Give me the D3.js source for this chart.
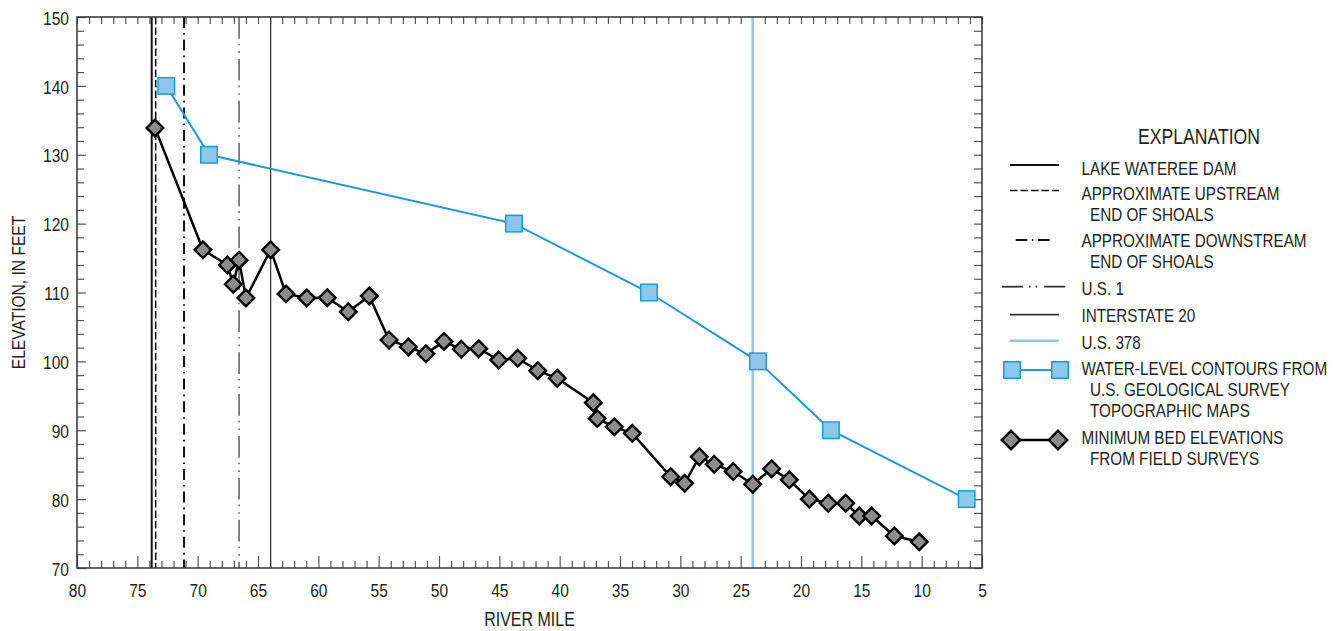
<!DOCTYPE html>
<html>
<head>
<meta charset="utf-8">
<script src="https://cdn.jsdelivr.net/npm/d3@7"></script>
<style>
  html, body { margin: 0; padding: 0; background: #fff; }
  svg { display: block; font-family: "Liberation Sans", Arial, sans-serif; }
</style>
</head>
<body>
<svg id="chart" width="1341" height="631"></svg>
<script>
// ---------------- DATA ----------------
const xTickValues = d3.range(5, 81, 1);          // river mile ticks
const xLabelValues = [80, 75, 70, 65, 60, 55, 50, 45, 40, 35, 30, 25, 20, 15, 10, 5];
const yTickValues = d3.range(70, 151, 2);
const yLabelValues = [70, 80, 90, 100, 110, 120, 130, 140, 150];

// Water-level contours from USGS topographic maps
const contourMile = [72.6, 69.06, 43.79, 32.6, 23.57, 17.52, 6.27];
const contourElev = [140, 130, 120, 110, 100, 90, 80];

// Minimum bed elevations from field surveys
const bedMile = [73.54, 69.56, 67.54, 67.05, 66.57, 66.0, 63.95, 62.68, 60.96, 59.26,
  57.52, 55.78, 54.14, 52.54, 51.08, 49.59, 48.15, 46.71, 45.05, 43.48,
  41.82, 40.2, 37.21, 36.88, 35.47, 33.98, 30.8, 29.64, 28.43, 27.19,
  25.61, 24.0, 22.43, 20.97, 19.31, 17.74, 16.3, 15.17, 14.14, 12.27, 10.2];
const bedElev = [133.9, 116.2, 114.0, 111.2, 114.7, 109.2, 116.2, 109.8, 109.2, 109.25,
  107.2, 109.5, 103.1, 102.1, 101.1, 102.9, 101.75, 101.85, 100.2, 100.45,
  98.65, 97.55, 94.0, 91.7, 90.5, 89.55, 83.25, 82.3, 86.15, 85.05,
  84.0, 82.15, 84.4, 82.8, 80.0, 79.4, 79.4, 77.55, 77.55, 74.65, 73.8];

// Reference locations (vertical lines)
const refKeys  = ["dam", "up", "down", "us1", "i20", "us378"];
const refMiles = [73.81, 73.48, 71.13, 66.57, 63.95, 24.0];

// Legend
const legendTitle = "EXPLANATION";
const legendKeys = ["dam", "up", "down", "us1", "i20", "us378", "contour", "bed"];
const legendLabels = [
  ["LAKE WATEREE DAM"],
  ["APPROXIMATE UPSTREAM", "END OF SHOALS"],
  ["APPROXIMATE DOWNSTREAM", "END OF SHOALS"],
  ["U.S. 1"],
  ["INTERSTATE 20"],
  ["U.S. 378"],
  ["WATER-LEVEL CONTOURS FROM", "U.S. GEOLOGICAL SURVEY", "TOPOGRAPHIC MAPS"],
  ["MINIMUM BED ELEVATIONS", "FROM FIELD SURVEYS"]
];
const xAxisTitle = "RIVER MILE";
const yAxisTitle = "ELEVATION, IN FEET";

// ---------------- STYLES ----------------
const NARROW = 0.82;
const lineStyle = {
  dam:   { stroke: "#111", width: 2.0, dash: null },
  up:    { stroke: "#111", width: 1.6, dash: "7.5,3" },
  down:  { stroke: "#111", width: 2.0, dash: "11,5,1.6,5" },
  us1:   { stroke: "#333", width: 1.2, dash: "21.7,5,1.6,6,1.6,6" },
  i20:   { stroke: "#333", width: 1.2, dash: null },
  us378: { stroke: "#8ec8ee", width: 2.5, dash: null }
};
const blue = "#1a9bd7", blueFill = "#8ec7ec";
const diamondFill = "#8c8c8c";

// ---------------- CHART ----------------
const svg = d3.select("#chart");
svg.append("rect").attr("width", 1341).attr("height", 631).attr("fill", "#fff");

const L = 77, R = 982, T = 17, B = 568;
const x = d3.scaleLinear().domain([80, 5]).range([L, R]);
const y = d3.scaleLinear().domain([70, 150]).range([B, T]);

function narrowText(sel) {
  sel.attr("transform", `scale(${NARROW},1)`);
}

// axes
const fmtX = d => (d % 5 === 0 ? d : "");
const fmtY = d => (d % 10 === 0 ? d : "");

const gBottom = svg.append("g").attr("transform", `translate(0,${B})`)
  .call(d3.axisBottom(x).tickValues(xTickValues).tickSizeInner(-7).tickSizeOuter(0)
    .tickPadding(15.5).tickFormat(fmtX));
const gTop = svg.append("g").attr("transform", `translate(0,${T})`)
  .call(d3.axisTop(x).tickValues(xTickValues).tickSizeInner(-7).tickSizeOuter(0).tickFormat(""));
const gLeft = svg.append("g").attr("transform", `translate(${L},0)`)
  .call(d3.axisLeft(y).tickValues(yTickValues).tickSizeInner(-7).tickSizeOuter(0).tickFormat(fmtY));
const gRight = svg.append("g").attr("transform", `translate(${R},0)`)
  .call(d3.axisRight(y).tickValues(yTickValues).tickSizeInner(-8).tickSizeOuter(0).tickFormat(""));

[gBottom, gTop, gLeft, gRight].forEach(g => {
  g.select(".domain").remove();
  g.selectAll(".tick line").attr("stroke", "#555").attr("stroke-width", 1.2);
});
gBottom.selectAll(".tick line").filter(d => d % 5 === 0).attr("y2", -12);
gLeft.selectAll(".tick line").filter(d => d % 10 === 0).attr("x2", 9);

gBottom.selectAll(".tick text")
  .attr("font-size", 19).attr("fill", "#231f20")
  .attr("font-family", "Liberation Sans, Arial, sans-serif")
  .call(narrowText);
gLeft.selectAll(".tick text")
  .attr("font-size", 19).attr("fill", "#231f20")
  .attr("font-family", "Liberation Sans, Arial, sans-serif")
  .attr("x", -8 / NARROW).attr("dy", "0.38em")
  .call(narrowText);

// reference vertical lines
svg.append("g").selectAll("line").data(refKeys).join("line")
  .attr("x1", (d, i) => x(refMiles[i])).attr("x2", (d, i) => x(refMiles[i]))
  .attr("y1", T).attr("y2", B)
  .attr("stroke", d => lineStyle[d].stroke)
  .attr("stroke-width", d => lineStyle[d].width)
  .attr("stroke-dasharray", d => lineStyle[d].dash);

// frame
svg.append("rect").attr("x", L).attr("y", T).attr("width", R - L).attr("height", B - T)
  .attr("fill", "none").attr("stroke", "#333").attr("stroke-width", 1.5);

// contour series
const contour = contourMile.map((m, i) => ({ m, e: contourElev[i] }));
const bed = bedMile.map((m, i) => ({ m, e: bedElev[i] }));
const line = d3.line().x(d => x(d.m)).y(d => y(d.e));

svg.append("path").datum(contour).attr("d", line)
  .attr("fill", "none").attr("stroke", blue).attr("stroke-width", 2);
const SQ = 16.5;
svg.append("g").selectAll("rect").data(contour).join("rect")
  .attr("x", d => x(d.m) - SQ / 2).attr("y", d => y(d.e) - SQ / 2)
  .attr("width", SQ).attr("height", SQ)
  .attr("fill", blueFill).attr("stroke", blue).attr("stroke-width", 1.5);

// bed series
svg.append("path").datum(bed).attr("d", line)
  .attr("fill", "none").attr("stroke", "#000").attr("stroke-width", 2.5)
  .attr("stroke-linejoin", "round");
const diamond = r => `M0,${-r}L${r},0L0,${r}L${-r},0Z`;
svg.append("g").selectAll("path").data(bed).join("path")
  .attr("transform", d => `translate(${x(d.m)},${y(d.e)})`)
  .attr("d", diamond(8.3))
  .attr("fill", diamondFill).attr("stroke", "#000").attr("stroke-width", 2.4)
  .attr("stroke-linejoin", "miter");

// axis titles
svg.append("g").attr("transform", `translate(${(L + R) / 2},626)`)
  .append("text").attr("text-anchor", "middle").attr("font-size", 19.5).attr("fill", "#231f20")
  .text(xAxisTitle).call(narrowText);
svg.append("g").attr("transform", `translate(25,${(T + B) / 2}) rotate(-90)`)
  .append("text").attr("text-anchor", "middle").attr("font-size", 19).attr("fill", "#231f20")
  .text(yAxisTitle).call(narrowText);

// ---------------- LEGEND ----------------
const lg = svg.append("g");
lg.append("g").attr("transform", "translate(1199,144.3)")
  .append("text").attr("text-anchor", "middle").attr("font-size", 21.5).attr("fill", "#231f20")
  .text(legendTitle).call(narrowText);

const textX = 1081.5, indentX = 1090;
const firstBaselines = [174.5, 199.5, 247, 295, 322, 348.5, 375, 444];
const lineGap = 21.2;
const symSpec = {
  dam:   { x1: 1010, x2: 1059, dy: -9.5 },
  up:    { x1: 1010, x2: 1059, dy: -9 },
  down:  { x1: 1015.7, x2: 1050, dy: -7 },
  us1:   { x1: 1002, x2: 1066, dy: -8.3 },
  i20:   { x1: 1010, x2: 1059, dy: -7.3 },
  us378: { x1: 1010, x2: 1059, dy: -7.8 },
  contour: { x1: 1012, x2: 1060, dy: -5 },
  bed:   { x1: 1011, x2: 1058, dy: -4 }
};

legendKeys.forEach((k, i) => {
  const base = firstBaselines[i];
  legendLabels[i].forEach((t, j) => {
    lg.append("g").attr("transform", `translate(${j === 0 ? textX : indentX},${base + j * lineGap})`)
      .append("text").attr("font-size", 18.6).attr("fill", "#231f20").text(t).call(narrowText);
  });
  const s = symSpec[k];
  const sy = base + s.dy;
  if (lineStyle[k]) {
    lg.append("line").attr("x1", s.x1).attr("x2", s.x2).attr("y1", sy).attr("y2", sy)
      .attr("stroke", lineStyle[k].stroke)
      .attr("stroke-width", k === "us1" || k === "i20" ? 1.8 : lineStyle[k].width)
      .attr("stroke-dasharray", k === "down" ? "11.7,4.5,1.6,4.5" : (k === "us1" ? "21,6,1.6,5,1.6,7" : lineStyle[k].dash));
  } else if (k === "contour") {
    lg.append("line").attr("x1", s.x1).attr("x2", s.x2).attr("y1", sy).attr("y2", sy)
      .attr("stroke", blue).attr("stroke-width", 2);
    [s.x1, s.x2].forEach(cx => lg.append("rect")
      .attr("x", cx - SQ / 2).attr("y", sy - SQ / 2).attr("width", SQ).attr("height", SQ)
      .attr("fill", blueFill).attr("stroke", blue).attr("stroke-width", 1.5));
  } else if (k === "bed") {
    lg.append("line").attr("x1", s.x1).attr("x2", s.x2).attr("y1", sy).attr("y2", sy)
      .attr("stroke", "#000").attr("stroke-width", 2.5);
    [s.x1, s.x2].forEach(cx => lg.append("path")
      .attr("transform", `translate(${cx},${sy})`).attr("d", diamond(9.2))
      .attr("fill", diamondFill).attr("stroke", "#000").attr("stroke-width", 2.4));
  }
});
</script>
</body>
</html>
